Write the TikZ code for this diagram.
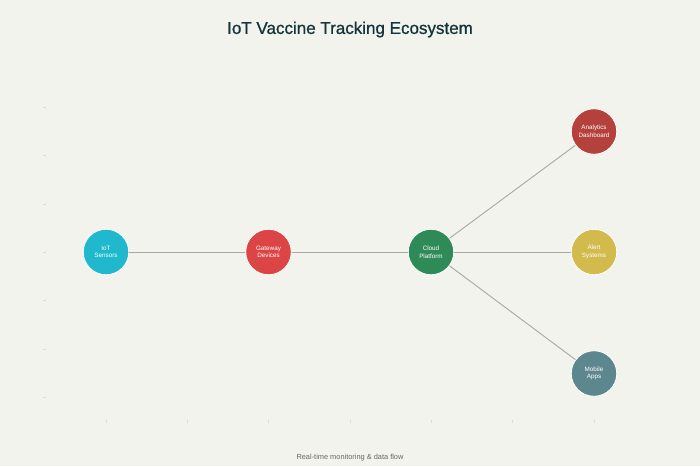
\documentclass[tikz,border=0pt]{standalone}
\usepackage{fontspec}
\setmainfont{Liberation Sans}
\newfontfamily\titlefont[BoldFont={Liberation Sans}, BoldFeatures={FakeBold=0.9}]{Liberation Sans}
\definecolor{bg}{HTML}{F3F3EE}
\definecolor{cIoT}{HTML}{1FB8CD}
\definecolor{cGate}{HTML}{DB4545}
\definecolor{cCloud}{HTML}{2E8B57}
\definecolor{cAna}{HTML}{B4413C}
\definecolor{cAlert}{HTML}{D2BA4C}
\definecolor{cMob}{HTML}{5D878F}
\definecolor{titlec}{HTML}{13343B}
\definecolor{linec}{HTML}{A8A8A4}
\definecolor{tickc}{HTML}{DCDCD6}
\tikzset{
  dev/.style={circle, minimum size=45.5pt, inner sep=0pt, draw=white, line width=0.8pt,
    text=white, font=\fontsize{6.3}{7.6}\selectfont, align=center},
  link/.style={draw=linec, line width=0.9pt},
  tick/.style={draw=tickc, line width=0.5pt}
}
\begin{document}
\begin{tikzpicture}[x=1pt,y=-1pt]
\fill[bg] (0,0) rectangle (700,466);
\useasboundingbox (0,0) rectangle (700,466);
% faint axis ticks
\foreach \yy in {107,155.5,204,252,300.5,349,397} {
  \draw[tick] (42.5,\yy) -- (45.5,\yy);
}
\foreach \xx in {106,187,268.5,350,431,512.5,594} {
  \draw[tick] (\xx,419.5) -- (\xx,422.5);
}
\node[font=\titlefont\bfseries\fontsize{17}{20}\selectfont, text=titlec] (title) at (350,29.5) {IoT Vaccine Tracking Ecosystem};
\node[dev, fill=cIoT] (iot) at (106,252) {IoT\\Sensors};
\node[dev, fill=cGate] (gate) at (268.5,252) {Gateway\\Devices};
\node[dev, fill=cCloud] (cloud) at (431,252) {Cloud\\Platform};
\node[dev, fill=cAna] (ana) at (594,131.5) {Analytics\\Dashboard};
\node[dev, fill=cAlert] (alert) at (594,252) {Alert\\Systems};
\node[dev, fill=cMob] (mob) at (594,373.5) {Mobile\\Apps};
\draw[link] (iot) -- (gate);
\draw[link] (gate) -- (cloud);
\draw[link] (cloud) -- (ana);
\draw[link] (cloud) -- (alert);
\draw[link] (cloud) -- (mob);
\node[font=\fontsize{7.4}{8.5}\selectfont, text=black!60] (sub) at (350,458) {Real-time monitoring \& data flow};
\end{tikzpicture}
\end{document}
